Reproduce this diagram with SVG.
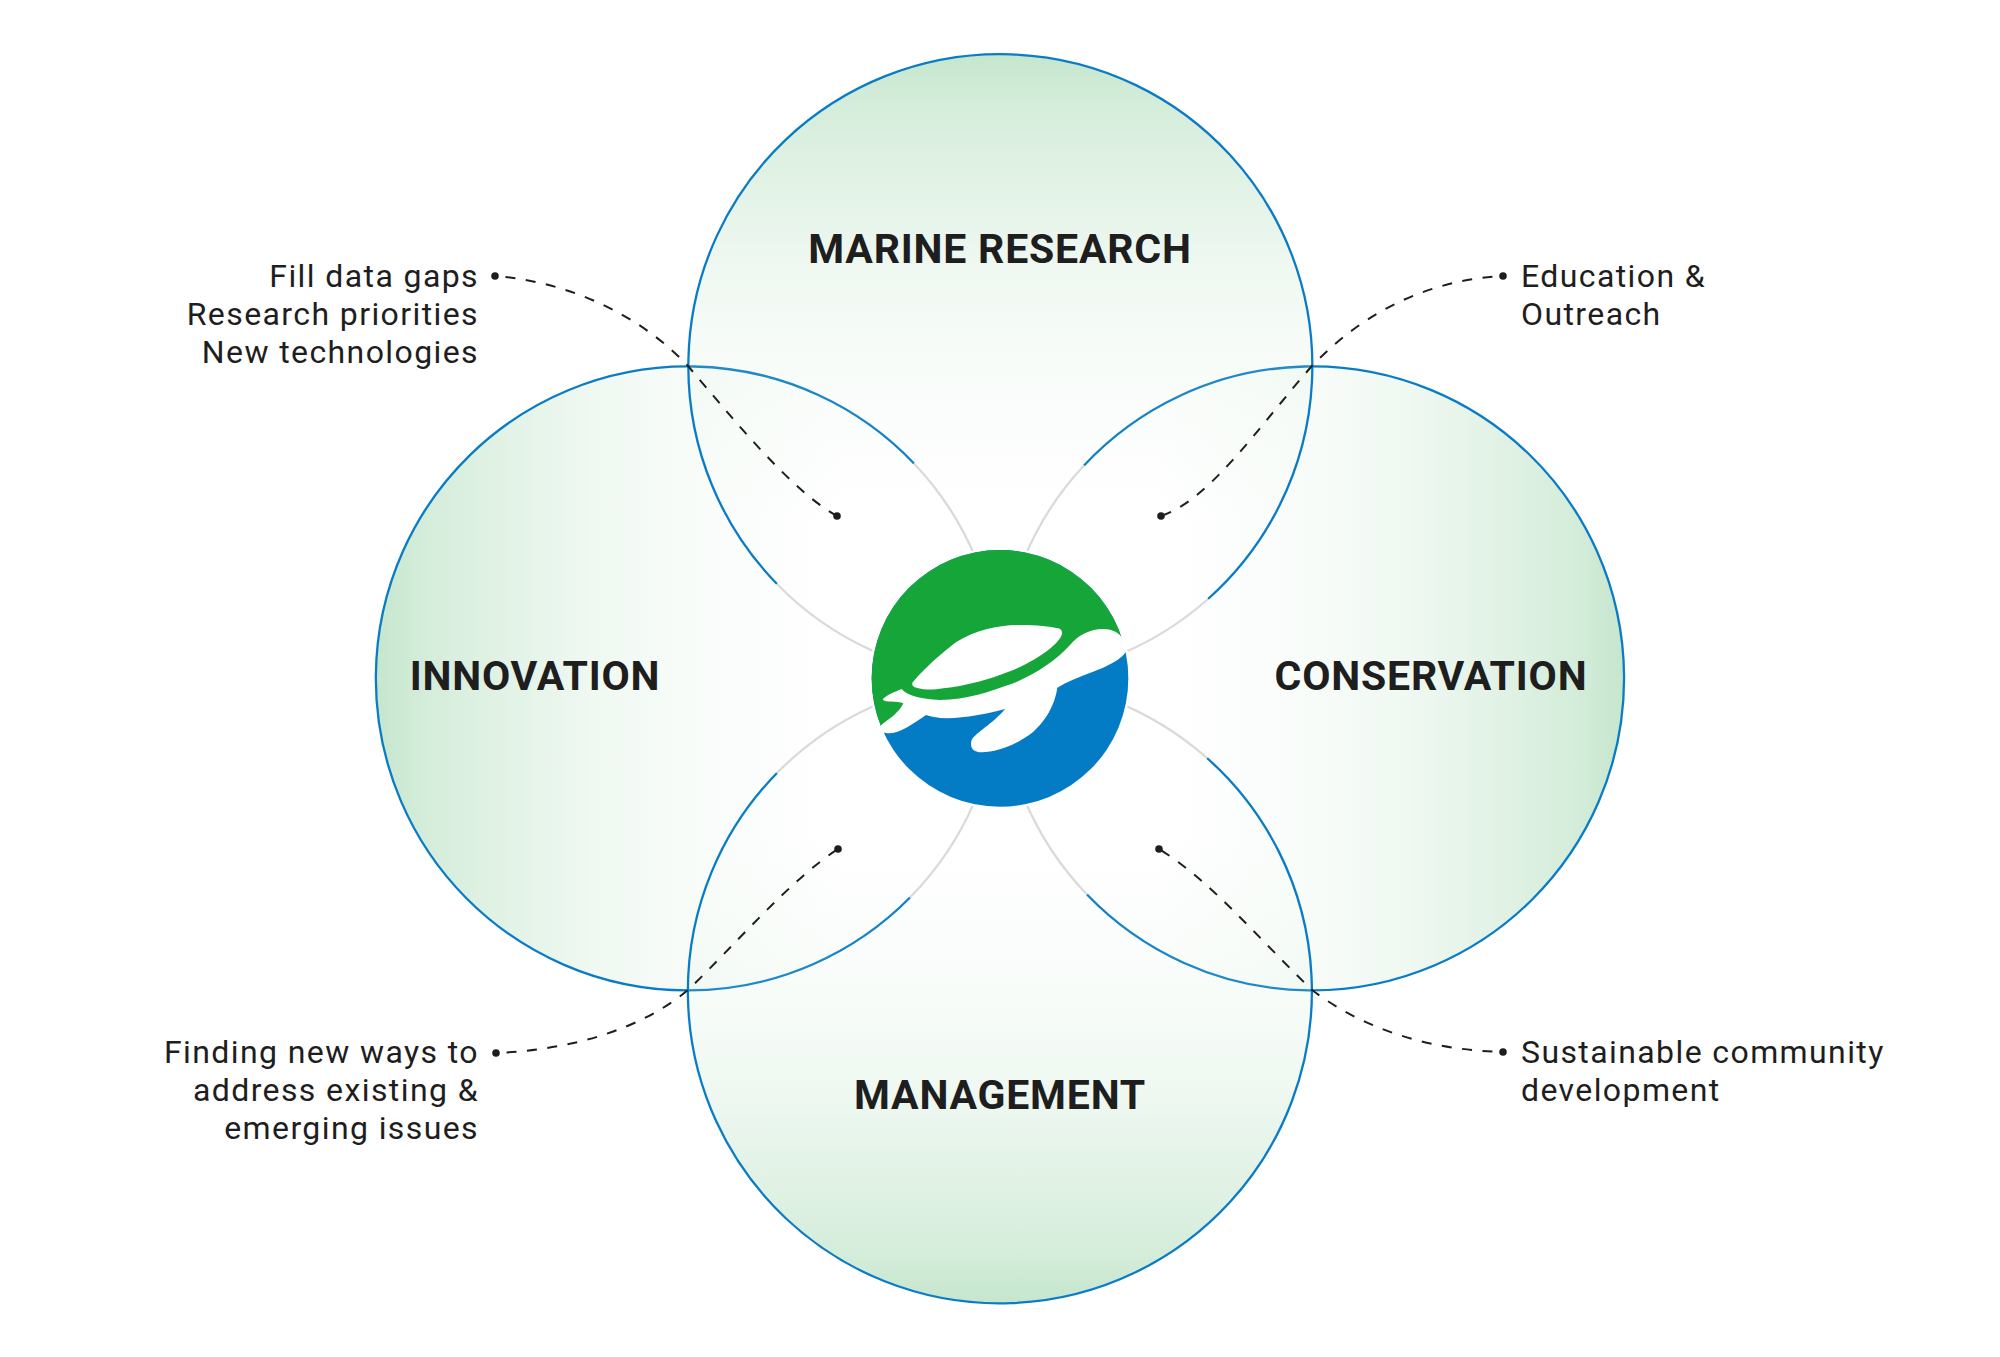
<svg xmlns="http://www.w3.org/2000/svg" width="2000" height="1357" viewBox="0 0 2000 1357">
<style>
.ring{fill:none;stroke:#0a7cc6;stroke-width:2.3}
.fade{fill:none;stroke:#dadada;stroke-width:2.3}
.h{font-family:Roboto,"Liberation Sans",sans-serif;font-weight:700;font-size:41px;letter-spacing:.8px;fill:#1e1e1e;text-anchor:middle}
.b{font-family:Roboto,"Liberation Sans",sans-serif;font-weight:400;font-size:32px;letter-spacing:1.4px;fill:#1e1e1e}
.e{text-anchor:end}
.dash{fill:none;stroke:#1e1e1e;stroke-width:2;stroke-dasharray:10 10.5;stroke-dashoffset:10}
.dot{fill:#1e1e1e}
.s0{stop-color:#c5e6cd}
.s1{stop-color:#c5e6cd;stop-opacity:.75}
.s2{stop-color:#c5e6cd;stop-opacity:.6}
.s3{stop-color:#c5e6cd;stop-opacity:.4}
.s4{stop-color:#c5e6cd;stop-opacity:.25}
.s5{stop-color:#c5e6cd;stop-opacity:.08}
.s6{stop-color:#c5e6cd;stop-opacity:0}
</style>
<defs>
<linearGradient id="gT" gradientUnits="userSpaceOnUse" x1="0" y1="54" x2="0" y2="520">
<stop offset="0" class="s0"/><stop offset=".1" class="s1"/><stop offset=".2" class="s2"/><stop offset=".36" class="s3"/><stop offset=".48" class="s4"/><stop offset=".75" class="s5"/><stop offset="1" class="s6"/>
</linearGradient>
<linearGradient id="gB" gradientUnits="userSpaceOnUse" x1="0" y1="1303" x2="0" y2="837">
<stop offset="0" class="s0"/><stop offset=".1" class="s1"/><stop offset=".2" class="s2"/><stop offset=".36" class="s3"/><stop offset=".48" class="s4"/><stop offset=".75" class="s5"/><stop offset="1" class="s6"/>
</linearGradient>
<linearGradient id="gL" gradientUnits="userSpaceOnUse" x1="376" y1="0" x2="842" y2="0">
<stop offset="0" class="s0"/><stop offset=".1" class="s1"/><stop offset=".2" class="s2"/><stop offset=".36" class="s3"/><stop offset=".48" class="s4"/><stop offset=".75" class="s5"/><stop offset="1" class="s6"/>
</linearGradient>
<linearGradient id="gR" gradientUnits="userSpaceOnUse" x1="1624" y1="0" x2="1158" y2="0">
<stop offset="0" class="s0"/><stop offset=".1" class="s1"/><stop offset=".2" class="s2"/><stop offset=".36" class="s3"/><stop offset=".48" class="s4"/><stop offset=".75" class="s5"/><stop offset="1" class="s6"/>
</linearGradient>
<clipPath id="disc"><circle cx="480" cy="475" r="385"/></clipPath>
</defs>
<rect width="2000" height="1357" fill="#fff"/>
<g id="node-innovation">
<circle cx="688" cy="678.5" r="312" fill="url(#gL)"/>
<path class="ring" d="M914 463.5A312 312 0 1 0 910 897.5"/>
<path class="fade" d="M914 463.5A312 312 0 0 1 910 897.5"/>
</g>
<g id="node-conservation">
<circle cx="1312" cy="678.5" r="312" fill="url(#gR)"/>
<path class="ring" d="M1084 465.5A312 312 0 1 1 1087 894.5"/>
<path class="fade" d="M1084 465.5A312 312 0 0 0 1087 894.5"/>
</g>
<g id="node-marine-research">
<circle cx="1000" cy="366.5" r="312" fill="url(#gT)"/>
<path class="ring" d="M777 584A312 312 0 1 1 1208 599"/>
<path class="fade" d="M777 584A312 312 0 0 0 1208 599"/>
</g>
<g id="node-management">
<circle cx="1000" cy="990.5" r="312" fill="url(#gB)"/>
<path class="ring" d="M777 773A312 312 0 1 0 1207 758"/>
<path class="fade" d="M777 773A312 312 0 0 1 1207 758"/>
</g>
<g id="labels">
<text class="h" x="1000" y="263">MARINE RESEARCH</text>
<text class="h" x="535" y="690">INNOVATION</text>
<text class="h" x="1431" y="690">CONSERVATION</text>
<text class="h" x="1000" y="1109">MANAGEMENT</text>
</g>
<g id="connectors">
<path class="dash" d="M495 276C570 282 640 315 688 366C730 415 790 490 837 516"/>
<path class="dash" d="M1503 276C1430 280 1365 310 1311 367C1260 425 1210 500 1161 516"/>
<path class="dash" d="M496 1053C570 1050 640 1030 688 990C735 945 790 880 838 849"/>
<path class="dash" d="M1503 1052C1430 1050 1365 1030 1312 990C1260 940 1210 880 1159 849"/>
<circle class="dot" cx="495" cy="276" r="3.8"/><circle class="dot" cx="837" cy="516" r="3.8"/>
<circle class="dot" cx="1503" cy="276" r="3.8"/><circle class="dot" cx="1161" cy="516" r="3.8"/>
<circle class="dot" cx="496" cy="1053" r="3.8"/><circle class="dot" cx="838" cy="849" r="3.8"/>
<circle class="dot" cx="1503" cy="1052" r="3.8"/><circle class="dot" cx="1159" cy="849" r="3.8"/>
</g>
<g id="notes">
<text class="b e" x="479" y="287">Fill data gaps</text>
<text class="b e" x="479" y="325">Research priorities</text>
<text class="b e" x="479" y="363">New technologies</text>
<text class="b" x="1521" y="287">Education &amp;</text>
<text class="b" x="1521" y="325">Outreach</text>
<text class="b e" x="479" y="1063">Finding new ways to</text>
<text class="b e" x="479" y="1101">address existing &amp;</text>
<text class="b e" x="479" y="1139">emerging issues</text>
<text class="b" x="1521" y="1063">Sustainable community</text>
<text class="b" x="1521" y="1101">development</text>
</g>
<g id="node-logo" transform="translate(840 520) scale(.33333)">
<circle cx="480" cy="475" r="392" fill="#fff"/>
<circle cx="480" cy="475" r="385" fill="#047cc5"/>
<path clip-path="url(#disc)" fill="#16a538" d="M960 395L850 390L700 440L600 510L500 545L300 565L200 590L100 640L0 640L0 0L960 0Z"/>
<path fill="#fff" d="M862 388C850 418 800 440 755 457C715 472 680 486 652 503C648 530 635 585 580 635C530 675 470 697 425 697C400 697 388 682 395 660C405 640 460 610 495 567C440 582 380 593 320 595C295 595 275 590 258 585C225 607 180 640 150 640C130 640 118 632 120 620C130 605 170 590 190 550C170 541 135 550 128 538C140 525 165 515 185 507C200 525 240 538 300 540C380 540 450 515 520 490C590 460 650 420 690 375C715 345 750 327 790 327C820 327 838 340 848 355Z"/>
<path fill="#fff" d="M218 487C240 460 290 410 350 365C410 330 470 315 540 315C590 315 630 320 655 325C668 330 670 340 660 355C640 385 580 425 520 450C450 478 380 497 310 505C280 510 255 510 235 505C222 502 213 497 218 487Z"/>
</g>
</svg>
